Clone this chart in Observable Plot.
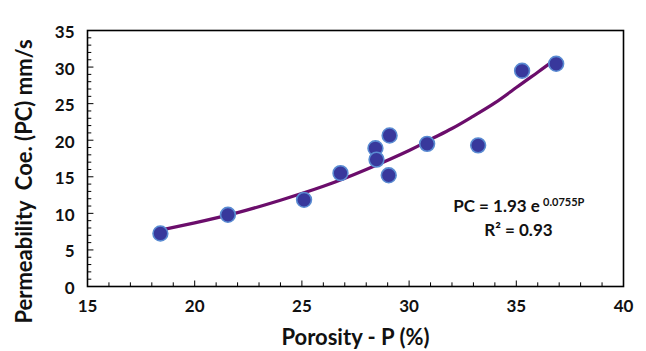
<!DOCTYPE html>
<html>
<head>
<meta charset="utf-8">
<script src="https://cdn.jsdelivr.net/npm/d3@7"></script>
<script src="https://cdn.jsdelivr.net/npm/@observablehq/plot@0.6"></script>
<style>
  body { margin: 0; background: #fff; }
  svg { font-family: Lato, "Open Sans", sans-serif; }
</style>
</head>
<body>
<div id="chart"></div>
<script>
// Measured points: porosity P (%) and permeability coefficient PC (mm/s)
const porosity = [18.4, 21.55, 25.1, 26.8, 28.43, 28.48, 29.09, 29.05, 30.84, 33.22, 35.27, 36.86];
const permeability = [7.25, 9.8, 11.85, 15.5, 18.9, 17.35, 20.65, 15.2, 19.5, 19.3, 29.5, 30.45];

// Trend curve
const trendX = [18.4, 20, 22, 24, 26, 28, 30, 31, 32, 33, 34, 35, 36, 36.75];
const trendY = [7.7, 8.7, 10.1, 11.8, 13.7, 16.0, 18.6, 20.1, 21.6, 23.3, 25.1, 27.2, 29.3, 30.9];

const xTicks = [15, 20, 25, 30, 35, 40];
const yTicks = [0, 5, 10, 15, 20, 25, 30, 35];
const xMinor = d3.range(15, 41, 1);
const yMinor = d3.range(0, 36, 1);

const xLabel = "Porosity - P (%)";
const yLabel = "Permeability\u00a0 Coe. (PC) mm/s";
const eqMain = "PC = 1.93 e";
const eqExp = "0.0755P";
const eqR2 = "R² = 0.93";

const points = porosity.map((p, i) => ({p, pc: permeability[i]}));
const trend = trendX.map((x, i) => ({x, y: trendY[i]}));

const chart = Plot.plot({
  width: 646,
  height: 351,
  marginLeft: 87,
  marginRight: 23,
  marginTop: 30,
  marginBottom: 65,
  style: {fontFamily: "Lato, 'Open Sans', sans-serif", background: "#fff", color: "#111"},
  x: {domain: [15, 40]},
  y: {domain: [0, 35]},
  marks: [
    // minor / major ticks pointing inward
    Plot.ruleX(xMinor, {x: d => d, y1: 0, y2: d => d % 5 === 0 ? 0.75 : 0.5, stroke: "#000", strokeWidth: 1}),
    Plot.ruleY(yMinor, {y: d => d, x1: 15, x2: d => d % 5 === 0 ? 15.3 : 15.2, stroke: "#000", strokeWidth: 1}),
    Plot.axisX({ticks: xTicks, tickSize: 0, tickPadding: 13, fontSize: 17, fontWeight: "bold", label: null, tickFormat: d => String(d)}),
    Plot.axisY({ticks: yTicks, tickSize: 0, tickPadding: 13, dy: 2, fontSize: 17, fontWeight: "bold", label: null, tickFormat: d => String(d)}),
    Plot.frame({stroke: "#000", strokeWidth: 1.6}),
    Plot.line(trend, {x: "x", y: "y", curve: "natural", stroke: "#6b0d6b", strokeWidth: 3.2}),
    Plot.dot(points, {x: "p", y: "pc", r: 7.4, fill: "#38389c", stroke: "#5a8bd2", strokeWidth: 1.6}),
    Plot.text([xLabel], {frameAnchor: "bottom", dy: 58, fontSize: 22, fontWeight: "bold", fill: "#111"}),
    Plot.text([yLabel], {frameAnchor: "left", textAnchor: "middle", dx: -63, dy: 23, rotate: -90, fontSize: 22, fontWeight: "bold", fill: "#111"}),
    Plot.text([eqMain], {x: 36.1, y: 10.9, textAnchor: "end", fontSize: 17, fontWeight: "bold", fill: "#111"}),
    Plot.text([eqExp], {x: 36.25, y: 11.55, textAnchor: "start", fontSize: 11, fontWeight: "bold", fill: "#111"}),
    Plot.text([eqR2], {x: 35.1, y: 7.6, textAnchor: "middle", fontSize: 17, fontWeight: "bold", fill: "#111"})
  ]
});

document.getElementById("chart").appendChild(chart);
</script>
</body>
</html>
